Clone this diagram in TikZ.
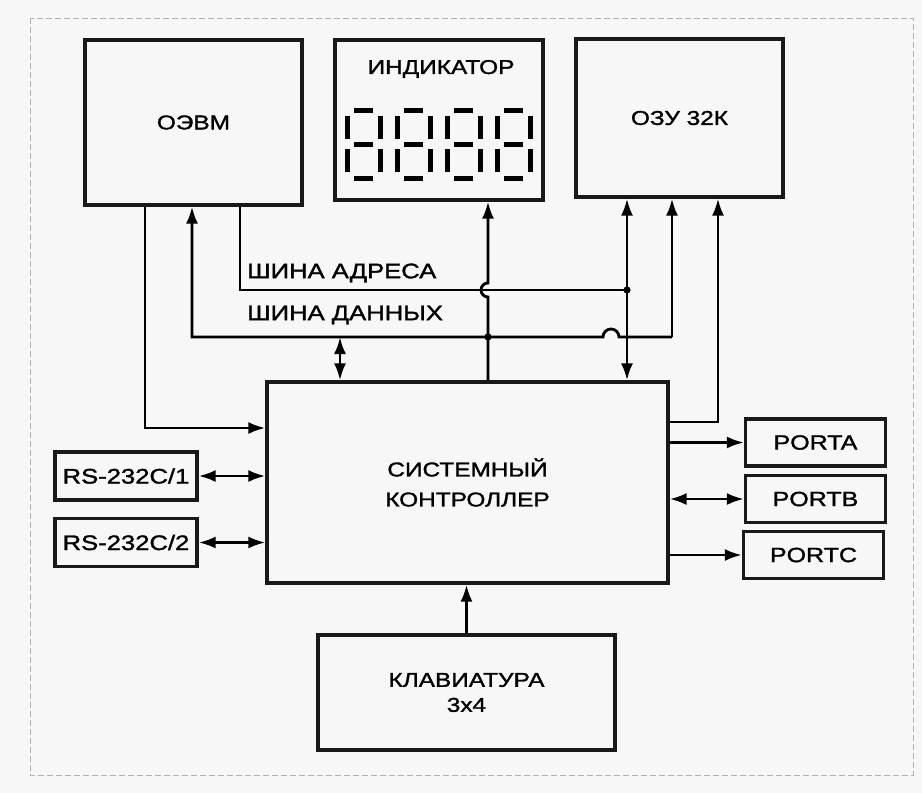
\documentclass[tikz,border=0pt]{standalone}
\usepackage{fontspec}
\setmainfont{Liberation Sans}[FakeStretch=1.22, FakeBold=1.5]
\usetikzlibrary{arrows.meta}

\begin{document}
\begin{tikzpicture}[x=1pt,y=-1pt]
   \useasboundingbox (0,0) rectangle (922,793);
   \fill[black!3] (0,0) rectangle (922,793);
   \draw[black!30, line width=0.8pt, dash pattern=on 6pt off 3pt] (30,18) rectangle (913,775);
   \tikzstyle{blok}=[draw=black!90, line width=3.2pt, inner sep=0pt, align=center, font=\fontsize{20}{30}\selectfont]
   \tikzstyle{port}=[blok, minimum width=140pt, minimum height=47pt, font=\fontsize{20.5}{24}\selectfont]
   \tikzstyle{arr}=[line width=2.8pt, -{Latex[length=17pt,width=12pt]}]
   \tikzstyle{dbl}=[line width=2.8pt, {Latex[length=17pt,width=12pt]}-{Latex[length=17pt,width=12pt]}]
   \tikzstyle{wire}=[line width=2.8pt]
   \tikzstyle{seg}=[line width=5pt]
   % top row
   \node[blok, minimum width=217pt, minimum height=165pt] (osvm) at (193.5,122.5) {ОЭВМ};
   \node[blok, minimum width=208pt, minimum height=160pt] (ind) at (439,120) {};
   \node[font=\fontsize{20}{24}\selectfont] (indtitle) at (441,69) {ИНДИКАТОР};
   \node[blok, minimum width=207pt, minimum height=158pt] (ozu) at (679.5,118) {ОЗУ 32К};
   % seven segment digits
   \foreach \d in {0,...,3} {
     \begin{scope}[shift={(\d*50,0)}]
       \foreach \y in {110,144,178}
         \draw[seg] (354,\y) -- (373,\y);
       \foreach \x in {347,380} {
         \draw[seg] (\x,116) -- (\x,139);
         \draw[seg] (\x,149) -- (\x,172);
       }
     \end{scope}
   }
   % middle and bottom
   \node[blok, minimum width=401pt, minimum height=201pt] (ctrl) at (467.5,482.5) {СИСТЕМНЫЙ\\КОНТРОЛЛЕР};
   \node[blok, minimum width=297pt, minimum height=115pt, font=\fontsize{20}{25}\selectfont] (kbd) at (466.5,692.5) {КЛАВИАТУРА\\3x4};
   \node[port, minimum width=142pt, minimum height=48pt, font=\fontsize{21}{24}\selectfont] (rs1) at (126,476) {RS-232C/1};
   \node[port, minimum width=142pt, minimum height=48pt, font=\fontsize{21}{24}\selectfont] (rs2) at (126,542.5) {RS-232C/2};
   \node[port] (porta) at (815.5,442.5) {PORTA};
   \node[port] (portb) at (815.5,499) {PORTB};
   \node[port] (portc) at (813.5,555) {PORTC};
   % bus labels
   \node[anchor=west, inner sep=0pt, font=\fontsize{21}{24}\selectfont] (abus) at (247,273) {ШИНА АДРЕСА};
   \node[anchor=west, inner sep=0pt, font=\fontsize{21}{24}\selectfont] (dbus) at (247,315) {ШИНА ДАННЫХ};
   % bus points
   \coordinate (a1) at (145,428);
   \coordinate (ab0) at (240,290);
   \coordinate (ab1) at (627,290);
   \coordinate (db0) at (192,337);
   \coordinate (dbx) at (340,337);
   \coordinate (ij) at (488,337);
   \coordinate (ijump) at (488,297);
   \coordinate (djump) at (619,337);
   \coordinate (db1) at (672,337);
   \coordinate (r1) at (718,422);
   % address bus
   \draw[wire] (osvm.south -| ab0) -- (ab0) -- (ab1);
   \fill (ab1) circle (3.6);
   % data bus
   \draw[arr] (db1) -- (djump) arc[start angle=0, end angle=-180, radius=8] -- (db0) -- (osvm.south -| db0);
   \draw[arr] (db1) -- (ozu.south -| db1);
   \draw[dbl] (dbx) -- (ctrl.north -| dbx);
   \fill (ij) circle (3.6);
   % indicator, ozu
   \draw[arr] (ctrl.north -| ij) -- (ijump) arc[start angle=90, end angle=270, radius=7] -- (ind.south -| ij);
   \draw[dbl] (ctrl.north -| ab1) -- (ozu.south -| ab1);
   \draw[arr] (ctrl.east |- r1) -- (r1) -- (ozu.south -| r1);
   % left side
   \draw[arr] (osvm.south -| a1) -- (a1) -- (ctrl.west |- a1);
   \foreach \r in {rs1,rs2}
     \draw[dbl] (\r.east) -- (ctrl.west |- \r.east);
   % right side
   \draw[arr] (ctrl.east |- porta.west) -- (porta.west);
   \draw[dbl] (ctrl.east |- portb.west) -- (portb.west);
   \draw[arr] (ctrl.east |- portc.west) -- (portc.west);
   % keyboard
   \draw[arr] (kbd.north) -- (ctrl.south -| kbd.north);
\end{tikzpicture}
\end{document}
